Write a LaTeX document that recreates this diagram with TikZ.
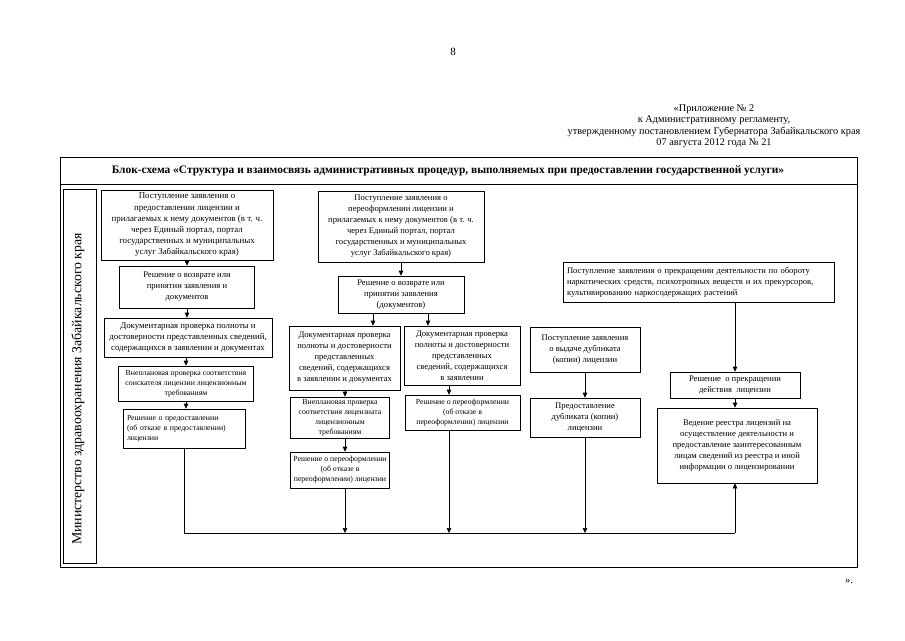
\documentclass[tikz,border=0pt]{standalone}
\usepackage{fontspec}
\setmainfont{Liberation Serif}
\usetikzlibrary{arrows.meta}
\begin{document}
\begin{tikzpicture}[x=1pt,y=-1pt,
  box/.style={draw, line width=0.6pt, align=center, inner sep=2pt, font=\fontsize{8.6}{11}\selectfont},
  lbox/.style={box, align=left, inner sep=4pt},
  small/.style={font=\fontsize{7.8}{10}\selectfont},
  con/.style={line width=0.6pt},
  arr/.style={con, -{Triangle[length=5pt,width=4.5pt]}},
  frame/.style={line width=0.7pt}
]
\useasboundingbox (0,0) rectangle (905,640);
\fill[white] (0,0) rectangle (905,640);

% page number and header
\node[font=\fontsize{11}{13}\selectfont] (pnum) at (453,52) {8};
\node[align=center, font=\fontsize{10.3}{11.4}\selectfont] (hdr) at (714,126)
  {«Приложение № 2\\к Административному регламенту,\\утвержденному постановлением Губернатора Забайкальского края\\07 августа 2012 года № 21};

% outer frame and title
\draw[frame] (60,157) rectangle (857,567);
\draw[frame] (60,184) -- (857,184);
\node[font=\bfseries\fontsize{11.4}{13}\selectfont] (title) at (448,171)
  {Блок-схема «Структура и взаимосвязь административных процедур, выполняемых при предоставлении государственной услуги»};

% left band
\draw[frame] (63,189) rectangle (96,563);
\node[rotate=90, font=\fontsize{13.8}{15}\selectfont] (min) at (78,389) {Министерство здравоохранения Забайкальского края};

% left column
\node[box, minimum width=172, minimum height=70, font=\fontsize{8.9}{11.2}\selectfont] (B1) at (187,225)
  {Поступление заявления о\\предоставлении лицензии и\\прилагаемых к нему документов (в т. ч.\\через Единый портал, портал\\государственных и муниципальных\\услуг Забайкальского края)};
\node[box, minimum width=135, minimum height=42] (B2) at (187,287)
  {Решение о возврате или\\принятии заявления и\\документов};
\node[box, minimum width=168, minimum height=39, font=\fontsize{8.8}{11}\selectfont] (B3) at (188,337.5)
  {Документарная проверка полноты и\\достоверности представленных сведений,\\содержащихся в заявлении и документах};
\node[box, small, minimum width=135, minimum height=35] (B4) at (186,383.5)
  {Внеплановая проверка соответствия\\соискателя лицензии лицензионным\\требованиям};
\node[lbox, small, text width=114, minimum height=39] (B5) at (184,428.5)
  {Решение о предоставлении\\(об отказе в предоставлении)\\лицензии};

\draw[arr] (B1.south) -- (B1.south |- B2.north);
\draw[arr] (B2.south) -- (B2.south |- B3.north);
\draw[arr] (B3.south -| B4.north) -- (B4.north);
\draw[arr] (B4.south) -- (B4.south |- B5.north);

% middle column
\node[box, minimum width=166, minimum height=71] (M1) at (401,226.5)
  {Поступление заявления о\\переоформлении лицензии и\\прилагаемых к нему документов (в т. ч.\\через Единый портал, портал\\государственных и муниципальных\\услуг Забайкальского края)};
\node[box, minimum width=126, minimum height=37] (M2) at (401,294.5)
  {Решение о возврате или\\принятии заявления\\(документов)};
\node[box, minimum width=111, minimum height=64] (M3a) at (344.5,358)
  {Документарная проверка\\полноты и достоверности\\представленных\\сведений, содержащихся\\в заявлении и документах};
\node[box, minimum width=116, minimum height=59] (M3b) at (462,355.5)
  {Документарная проверка\\полноты и достоверности\\представленных\\сведений, содержащихся\\в заявлении};
\node[box, small, minimum width=99, minimum height=41] (M4a) at (340,417.5)
  {Внеплановая проверка\\соответствия лицензиата\\лицензионным\\требованиям};
\node[box, small, minimum width=99, minimum height=36] (M5a) at (340,470)
  {Решение о переоформлении\\(об отказе в\\переоформлении) лицензии};
\node[box, small, minimum width=115, minimum height=35] (M4b) at (462.5,412.5)
  {Решение о переоформлении\\(об отказе в\\переоформлении) лицензии};

\draw[arr] (M1.south) -- (M1.south |- M2.north);
\coordinate (m2l) at (373,0);
\coordinate (m2r) at (428,0);
\draw[arr] (M2.south -| m2l) -- (M3a.north -| m2l);
\draw[arr] (M2.south -| m2r) -- (M3b.north -| m2r);
\coordinate (m3l) at (345,0);
\coordinate (m3r) at (449,0);
\draw[arr] (M3a.south -| m3l) -- (M4a.north -| m3l);
\draw[arr] (M4a.south -| m3l) -- (M5a.north -| m3l);
\draw[arr] (M3b.south -| m3r) -- (M4b.north -| m3r);

% right part
\node[box, minimum width=110, minimum height=45] (R1) at (585,349.5)
  {Поступление заявления\\о выдаче дубликата\\(копии) лицензии};
\node[box, minimum width=110, minimum height=39] (R2) at (585,417.5)
  {Предоставление\\дубликата (копии)\\лицензии};
\node[lbox, text width=263, minimum height=40] (R3) at (698.5,282)
  {Поступление заявления о прекращении деятельности по обороту\\наркотических средств, психотропных веществ и их прекурсоров,\\культивированию наркосодержащих растений};
\node[box, minimum width=130, minimum height=26] (R4) at (735,385)
  {Решение ~о прекращении\\действия ~лицензии};
\node[box, minimum width=160, minimum height=75] (R5) at (737,445.5)
  {Ведение реестра лицензий на\\осуществление деятельности и\\предоставление заинтересованным\\лицам сведений из реестра и иной\\информации о лицензировании};

\draw[arr] (R1.south) -- (R1.south |- R2.north);
\coordinate (rx) at (735,0);
\draw[arr] (R3.south -| rx) -- (R4.north -| rx);
\draw[arr] (R4.south -| rx) -- (R5.north -| rx);

% bottom bus
\coordinate (busL) at (B5.south |- 0,533);
\coordinate (busR) at (735,533);
\draw[con] (B5.south) -- (busL) -- (busR);
\draw[arr] (M5a.south -| m3l) -- (m3l |- busL);
\draw[arr] (M4b.south -| m3r) -- (m3r |- busL);
\draw[arr] (R2.south) -- (R2.south |- busL);
\draw[arr] (busR) -- (R5.south -| busR);

\node[font=\fontsize{10.5}{12}\selectfont] (close) at (849,581) {».};
\end{tikzpicture}
\end{document}
